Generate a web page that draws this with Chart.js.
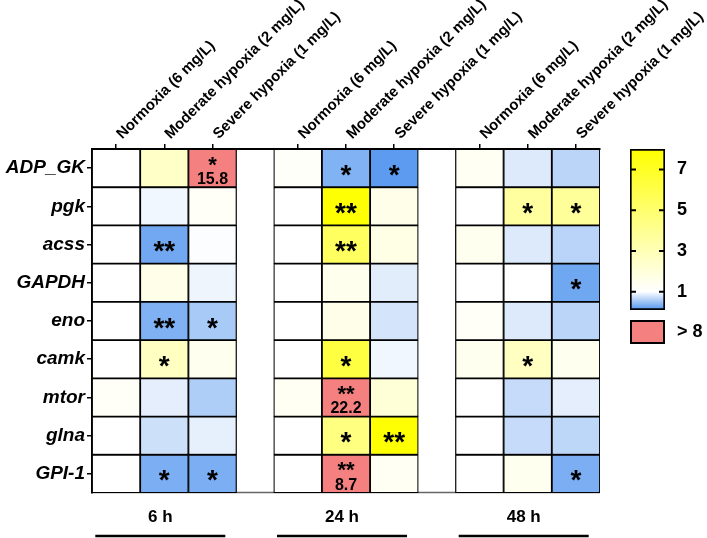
<!DOCTYPE html>
<html>
<head>
<meta charset="utf-8">
<script src="https://cdn.jsdelivr.net/npm/chart.js@4.4.1/dist/chart.umd.min.js"></script>
<style>
  html, body { margin: 0; padding: 0; background: #fff; }
  #wrap { position: relative; width: 707px; height: 538px; }
  #heat { position: absolute; left: 0; top: 0; }
  #scaleBar { position: absolute; left: 620px; top: 0; }
</style>
</head>
<body>
<div id="wrap">
  <canvas id="heat" width="707" height="538"></canvas>
  <canvas id="scaleBar" width="87" height="538"></canvas>
</div>
<script>
const genes = ['ADP_GK', 'pgk', 'acss', 'GAPDH', 'eno', 'camk', 'mtor', 'glna', 'GPI-1'];
const conditions = ['Normoxia (6 mg/L)', 'Moderate hypoxia (2 mg/L)', 'Severe hypoxia (1 mg/L)'];
const timepoints = ['6 h', '24 h', '48 h'];
const colorTicks = [1, 3, 5, 7];

// relative expression (fold change), one row per gene: [normoxia, moderate, severe]
const fold6h = [
  [1.0, 2.5, 15.8],
  [1.0, 0.93, 1.2],
  [1.0, 0.27, 0.98],
  [1.0, 1.6, 0.92],
  [1.0, 0.34, 0.55],
  [1.0, 2.7, 1.4],
  [1.2, 0.86, 0.59],
  [1.0, 0.74, 0.87],
  [1.0, 0.32, 0.32]
];
const fold24h = [
  [1.15, 0.35, 0.16],
  [1.0, 7.9, 1.6],
  [1.0, 5.4, 1.7],
  [1.0, 1.5, 0.85],
  [1.0, 1.6, 0.78],
  [1.0, 6.2, 0.93],
  [1.3, 22.2, 2.1],
  [1.0, 4.5, 7.9],
  [1.0, 8.7, 1.3]
];
const fold48h = [
  [1.3, 0.82, 0.65],
  [1.0, 3.6, 3.8],
  [1.4, 0.82, 0.64],
  [1.0, 1.0, 0.26],
  [1.2, 0.82, 0.65],
  [1.4, 2.7, 1.4],
  [1.0, 0.70, 0.86],
  [1.0, 0.70, 0.66],
  [1.0, 1.4, 0.32]
];

// significance marks
const sig6h = [
  ['', '', '*'], ['', '', ''], ['', '**', ''], ['', '', ''], ['', '**', '*'],
  ['', '*', ''], ['', '', ''], ['', '', ''], ['', '*', '*']
];
const sig24h = [
  ['', '*', '*'], ['', '**', ''], ['', '**', ''], ['', '', ''], ['', '', ''],
  ['', '*', ''], ['', '**', ''], ['', '*', '**'], ['', '**', '']
];
const sig48h = [
  ['', '', ''], ['', '*', '*'], ['', '', ''], ['', '', '*'], ['', '', ''],
  ['', '*', ''], ['', '', ''], ['', '', ''], ['', '', '*']
];

const FONT = "'Liberation Sans', Arial, sans-serif";
const GAP = 0.77;          // blank space between time groups, in cell widths
const SCALE_MIN = 0.1, SCALE_MAX = 8;
const WHITE = [255, 255, 255], YELLOW = [255, 255, 0], BLUE = [80, 148, 238];
const RED = '#F58080';

function foldColor(v) {
  if (v > SCALE_MAX) return RED;
  let a, t;
  if (v >= 1) { t = Math.min((v - 1) / (SCALE_MAX - 1), 1); a = YELLOW; }
  else { t = Math.min((1 - v) / (1 - SCALE_MIN), 1); a = BLUE; }
  const c = WHITE.map((w, i) => Math.round(w + (a[i] - w) * t));
  return 'rgb(' + c.join(',') + ')';
}

const foldByTime = [fold6h, fold24h, fold48h];
const sigByTime = [sig6h, sig24h, sig48h];
const columnCenters = [];
const datasets = [];

timepoints.forEach((tp, g) => {
  conditions.forEach((cond, c) => {
    const x0 = g * (3 + GAP) + c;
    columnCenters.push(x0 + 0.5);
    datasets.push({
      label: tp + ' ' + cond,
      data: genes.map(() => [x0, x0 + 1]),
      fold: genes.map((_, r) => foldByTime[g][r][c]),
      sig: genes.map((_, r) => sigByTime[g][r][c]),
      backgroundColor: genes.map((_, r) => foldColor(foldByTime[g][r][c])),
      borderColor: '#000',
      borderWidth: 1.25,
      borderSkipped: false,
      barPercentage: 1,
      categoryPercentage: 1,
      grouped: false
    });
  });
});

function drawCentered(ctx, text, x, y) {
  const m = ctx.measureText(text);
  ctx.fillText(text, x, y + (m.actualBoundingBoxAscent - m.actualBoundingBoxDescent) / 2);
}

const cellText = {
  id: 'cellText',
  beforeDatasetsDraw(chart) {
    const {ctx, chartArea} = chart;
    ctx.save();
    ctx.strokeStyle = '#666';
    ctx.lineWidth = 1.5;
    ctx.beginPath();
    ctx.moveTo(chartArea.left, chartArea.bottom - 0.5);
    ctx.lineTo(chartArea.right, chartArea.bottom - 0.5);
    ctx.stroke();
    ctx.restore();
  },
  afterDatasetsDraw(chart) {
    const ctx = chart.ctx;
    ctx.save();
    ctx.fillStyle = '#000';
    ctx.textAlign = 'center';
    ctx.textBaseline = 'alphabetic';
    chart.data.datasets.forEach((ds, di) => {
      chart.getDatasetMeta(di).data.forEach((bar, r) => {
        const p = bar.getCenterPoint();
        const top = p.y - bar.height / 2;
        const stars = ds.sig[r];
        const v = ds.fold[r];
        if (v > SCALE_MAX) {
          ctx.font = 'bold 22px ' + FONT;
          drawCentered(ctx, stars, p.x, top + 12);
          ctx.font = 'bold 16px ' + FONT;
          drawCentered(ctx, v.toFixed(1), p.x, top + 29);
        } else if (stars) {
          ctx.font = 'bold 28px ' + FONT;
          drawCentered(ctx, stars, p.x, p.y + 2);
        }
      });
    });
    ctx.restore();
  },
  afterDraw(chart) {
    const {ctx} = chart;
    const xs = chart.scales.x;
    ctx.save();
    ctx.fillStyle = '#000';
    ctx.strokeStyle = '#000';
    ctx.textAlign = 'center';
    ctx.textBaseline = 'middle';
    ctx.font = 'bold 17px ' + FONT;
    timepoints.forEach((tp, g) => {
      const cx = xs.getPixelForValue(g * (3 + GAP) + 1.5) - 4;
      ctx.fillText(tp, cx, 517);
      ctx.lineWidth = 2.5;
      ctx.beginPath();
      ctx.moveTo(cx - 65, 536);
      ctx.lineTo(cx + 65, 536);
      ctx.stroke();
    });
    ctx.restore();
  }
};

new Chart(document.getElementById('heat'), {
  type: 'bar',
  data: { labels: genes, datasets: datasets },
  options: {
    indexAxis: 'y',
    responsive: false,
    animation: false,
    layout: { padding: { right: 107, bottom: 45 } },
    scales: {
      x: {
        type: 'linear',
        position: 'top',
        min: 0,
        max: 9 + 2 * GAP,
        afterBuildTicks: s => { s.ticks = columnCenters.map(v => ({ value: v })); },
        afterFit: s => { s.height = 149; s.paddingLeft = 0; s.paddingRight = 0; },
        ticks: {
          autoSkip: false,
          maxRotation: 45,
          minRotation: 45,
          color: '#000',
          padding: 1,
          labelOffset: 16,
          font: { family: FONT, size: 15, weight: 'bold' },
          callback: (v, i) => conditions[i % 3]
        },
        grid: { drawOnChartArea: false, color: '#000', tickLength: 5, lineWidth: 1.5 },
        border: { color: '#000', width: 2 }
      },
      y: {
        type: 'category',
        offset: true,
        afterFit: s => { s.width = 92; },
        ticks: {
          color: '#000',
          padding: 2,
          font: { family: FONT, size: 19, weight: 'bold', style: 'italic' }
        },
        grid: { offset: false, drawOnChartArea: false, color: '#000', tickLength: 5, lineWidth: 1.5 },
        border: { color: '#000', width: 2 }
      }
    },
    plugins: { legend: { display: false }, tooltip: { enabled: false } }
  },
  plugins: [cellText]
});

const scaleMarks = {
  id: 'scaleMarks',
  afterDraw(chart) {
    const {ctx, chartArea} = chart;
    const ys = chart.scales.y;
    ctx.save();
    ctx.strokeStyle = '#000';
    ctx.lineWidth = 2;
    colorTicks.forEach(v => {
      const y = ys.getPixelForValue(v);
      ctx.beginPath();
      ctx.moveTo(chartArea.left, y);
      ctx.lineTo(chartArea.left + 6, y);
      ctx.moveTo(chartArea.right - 6, y);
      ctx.lineTo(chartArea.right, y);
      ctx.stroke();
    });
    // "> 8" legend box
    ctx.fillStyle = RED;
    ctx.fillRect(chartArea.left + 1, 321, chartArea.right - chartArea.left - 2, 22);
    ctx.strokeRect(chartArea.left + 1, 321, chartArea.right - chartArea.left - 2, 22);
    ctx.fillStyle = '#000';
    ctx.font = 'bold 18px ' + FONT;
    ctx.textAlign = 'left';
    ctx.textBaseline = 'middle';
    ctx.fillText('> 8', chartArea.right + 12, 332);
    ctx.restore();
  }
};

new Chart(document.getElementById('scaleBar'), {
  type: 'bar',
  data: {
    labels: [''],
    datasets: [{
      data: [[SCALE_MIN, SCALE_MAX]],
      backgroundColor: c => {
        const chart = c.chart;
        const ys = chart.scales.y;
        if (!chart.chartArea || !ys) return '#ff0';
        const top = ys.getPixelForValue(SCALE_MAX), bot = ys.getPixelForValue(SCALE_MIN);
        const grad = chart.ctx.createLinearGradient(0, bot, 0, top);
        grad.addColorStop(0, foldColor(SCALE_MIN));
        grad.addColorStop((1 - SCALE_MIN) / (SCALE_MAX - SCALE_MIN), '#fff');
        grad.addColorStop(1, foldColor(SCALE_MAX));
        return grad;
      },
      borderColor: '#000',
      borderWidth: 2,
      borderSkipped: false,
      barPercentage: 1,
      categoryPercentage: 1
    }]
  },
  options: {
    responsive: false,
    animation: false,
    layout: { padding: { left: 10, top: 149, bottom: 228 } },
    scales: {
      x: { display: false },
      y: {
        position: 'right',
        min: SCALE_MIN,
        max: SCALE_MAX,
        afterBuildTicks: s => { s.ticks = colorTicks.map(v => ({ value: v })); },
        afterFit: s => { s.width = 42; },
        ticks: { color: '#000', padding: 12, font: { family: FONT, size: 18, weight: 'bold' } },
        grid: { display: false, drawTicks: false },
        border: { display: false }
      }
    },
    plugins: { legend: { display: false }, tooltip: { enabled: false } }
  },
  plugins: [scaleMarks]
});
</script>
</body>
</html>
